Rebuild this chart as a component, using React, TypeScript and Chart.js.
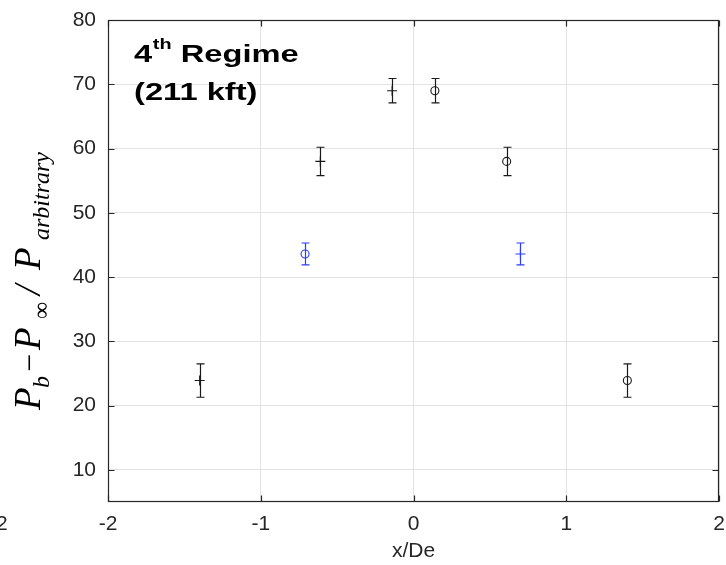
import React, { useEffect, useRef } from 'react';
import { Chart, registerables } from 'chart.js';

Chart.register(...registerables);

// ---- data ----
const xTicks = [-2, -1, 0, 1, 2];
const yTicks = [10, 20, 30, 40, 50, 60, 70, 80];

const blackPlusX = [-1.4, -0.61, -0.14];
const blackPlusY = [23.9, 58.0, 69.0];
const blackPlusErr = [2.6, 2.2, 1.9];

const blackCircleX = [1.4, 0.61, 0.14];
const blackCircleY = [23.9, 58.0, 69.0];
const blackCircleErr = [2.6, 2.2, 1.9];

const blueCircleX = [-0.71];
const blueCircleY = [43.6];
const blueCircleErr = [1.7];

const bluePlusX = [0.7];
const bluePlusY = [43.6];
const bluePlusErr = [1.7];

const BLACK = '#1a1a1a';
const BLUE = '#2a3cff';
const AXIS = '#262626';
const GRID = '#e2e2e2';

const toPts = (xs: number[], ys: number[]) => xs.map((x, i) => ({ x, y: ys[i] }));

const errorBarPlugin = {
  id: 'errorBars',
  afterDatasetsDraw(chart: any) {
    const ctx = chart.ctx;
    const xs = chart.scales.x;
    const ys = chart.scales.y;
    chart.data.datasets.forEach((ds: any) => {
      ctx.save();
      ctx.strokeStyle = ds.borderColor;
      ctx.lineWidth = 1.2;
      ds.data.forEach((p: any, i: number) => {
        const e = ds.errs[i];
        const px = Math.round(xs.getPixelForValue(p.x)) + 0.5;
        const y1 = ys.getPixelForValue(p.y + e);
        const y2 = ys.getPixelForValue(p.y - e);
        ctx.beginPath();
        ctx.moveTo(px, y1);
        ctx.lineTo(px, y2);
        ctx.moveTo(px - 4, y1);
        ctx.lineTo(px + 4, y1);
        ctx.moveTo(px - 4, y2);
        ctx.lineTo(px + 4, y2);
        ctx.stroke();
      });
      ctx.restore();
    });
  },
};

const decorPlugin = {
  id: 'decor',
  afterDraw(chart: any) {
    const ctx = chart.ctx;
    const a = chart.chartArea;
    const xs = chart.scales.x;
    const ys = chart.scales.y;
    const L = Math.round(a.left) + 0.5;
    const R = Math.round(a.right) - 0.5;
    const T = Math.round(a.top) + 0.5;
    const B = Math.round(a.bottom) - 0.5;
    ctx.save();
    // frame
    ctx.strokeStyle = AXIS;
    ctx.lineWidth = 1.2;
    ctx.strokeRect(L, T, R - L, B - T);
    // inward ticks
    ctx.beginPath();
    yTicks.forEach((v) => {
      const y = Math.round(ys.getPixelForValue(v)) + 0.5;
      ctx.moveTo(L, y);
      ctx.lineTo(L + 6, y);
      ctx.moveTo(R, y);
      ctx.lineTo(R - 6, y);
    });
    xTicks.forEach((v) => {
      const x = Math.round(xs.getPixelForValue(v)) + 0.5;
      ctx.moveTo(x, B);
      ctx.lineTo(x, B - 6);
      ctx.moveTo(x, T);
      ctx.lineTo(x, T + 6);
    });
    ctx.stroke();

    // x axis title
    ctx.fillStyle = AXIS;
    ctx.font = '21px "Liberation Sans", Arial, sans-serif';
    ctx.textAlign = 'center';
    ctx.textBaseline = 'alphabetic';
    ctx.fillText('x/De', (a.left + a.right) / 2, 557);

    // stray neighbour tick label at left edge
    ctx.textAlign = 'left';
    ctx.fillText('2', -4, 530);

    // annotation title (horizontally stretched bold sans)
    ctx.fillStyle = '#000';
    ctx.save();
    ctx.translate(134, 62);
    ctx.scale(1.42, 1);
    ctx.textAlign = 'left';
    let u = 0;
    ctx.font = 'bold 23px "Liberation Sans", Arial, sans-serif';
    ctx.fillText('4', u, 0);
    u += ctx.measureText('4').width;
    ctx.font = 'bold 14px "Liberation Sans", Arial, sans-serif';
    ctx.fillText('th', u + 0.5, -13);
    u += ctx.measureText('th').width + 0.5;
    ctx.font = 'bold 23px "Liberation Sans", Arial, sans-serif';
    ctx.fillText(' Regime', u, 0);
    ctx.fillText('(211 kft)', 0, 38);
    ctx.restore();

    // y axis label (math-like)
    ctx.save();
    ctx.translate(40, 410);
    ctx.rotate(-Math.PI / 2);
    ctx.fillStyle = '#000';
    ctx.textAlign = 'left';
    ctx.textBaseline = 'alphabetic';
    const big = 'italic 37px "Liberation Serif", "Times New Roman", serif';
    const sub = 'italic 24px "Liberation Serif", "Times New Roman", serif';
    const subUp = '24px "Liberation Serif", "Times New Roman", serif';
    const minus = '32px "Liberation Serif", "Times New Roman", serif';
    const pieces: [string, number, string, number][] = [
      ['P', 0, big, 0],
      ['b', 22, sub, 9],
      ['\u2212', 38, minus, 0],
      ['P', 60, big, 0],
      ['\u221E', 91, subUp, 9],
      ['/', 115, big, 0],
      ['P', 140, big, 0],
      ['arbitrary', 170, sub, 9],
    ];
    pieces.forEach(([t, pos, f, dv]) => {
      ctx.font = f;
      ctx.fillText(t, pos, dv);
    });
    ctx.restore();

    ctx.restore();
  },
};

export default function App() {
  const ref = useRef<HTMLCanvasElement | null>(null);
  useEffect(() => {
    document.body.style.margin = '0';
    const canvas = ref.current!;
    const mk = (xs: number[], ys: number[], errs: number[], color: string, style: string, r: number) => ({
      data: toPts(xs, ys),
      errs,
      borderColor: color,
      backgroundColor: 'rgba(0,0,0,0)',
      pointStyle: style,
      pointRadius: r,
      pointBorderWidth: 1.1,
      showLine: false,
    });
    const chart = new Chart(canvas, {
      type: 'scatter',
      data: {
        datasets: [
          mk(blackPlusX, blackPlusY, blackPlusErr, BLACK, 'cross', 5),
          mk(blackCircleX, blackCircleY, blackCircleErr, BLACK, 'circle', 4),
          mk(blueCircleX, blueCircleY, blueCircleErr, BLUE, 'circle', 4),
          mk(bluePlusX, bluePlusY, bluePlusErr, BLUE, 'cross', 5),
        ] as any,
      },
      options: {
        responsive: false,
        animation: false,
        layout: { padding: { left: 0, right: 7, top: 20, bottom: 0 } },
        plugins: { legend: { display: false }, tooltip: { enabled: false } },
        scales: {
          x: {
            type: 'linear',
            min: -2,
            max: 2,
            afterBuildTicks: (s: any) => {
              s.ticks = xTicks.map((v) => ({ value: v }));
            },
            afterFit: (s: any) => {
              s.height = 63;
              s.paddingLeft = 0;
              s.paddingRight = 0;
            },
            grid: { color: GRID, drawTicks: false },
            border: { display: false },
            ticks: {
              padding: 10,
              color: AXIS,
              autoSkip: false,
              maxRotation: 0,
              font: { family: '"Liberation Sans", Arial, sans-serif', size: 21 },
            },
          },
          y: {
            type: 'linear',
            min: 5,
            max: 80,
            afterBuildTicks: (s: any) => {
              s.ticks = yTicks.map((v) => ({ value: v }));
            },
            afterFit: (s: any) => {
              s.width = 108;
              s.paddingTop = 0;
              s.paddingBottom = 0;
            },
            grid: { color: GRID, drawTicks: false },
            border: { display: false },
            ticks: {
              padding: 12,
              color: AXIS,
              autoSkip: false,
              font: { family: '"Liberation Sans", Arial, sans-serif', size: 21 },
            },
          },
        },
      },
      plugins: [errorBarPlugin, decorPlugin],
    } as any);
    return () => chart.destroy();
  }, []);
  return (
    <div style={{ position: 'absolute', left: 0, top: 0, width: 726, height: 565 }}>
      <canvas ref={ref} width={726} height={565} style={{ display: 'block', width: 726, height: 565 }} />
    </div>
  );
}
